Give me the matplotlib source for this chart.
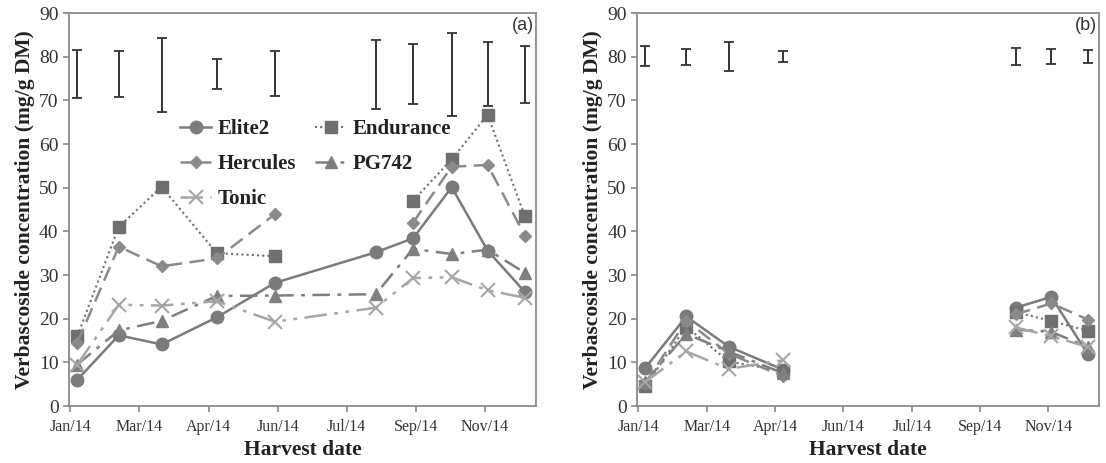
import matplotlib
matplotlib.use('Agg')
import matplotlib.pyplot as plt
import matplotlib.dates as mdates
import numpy as np
import pandas as pd

nan = np.nan

# dates de recolte et valeurs
dates = pd.to_datetime(['2014-01-15', '2014-02-14', '2014-03-17', '2014-04-26', '2014-06-07',
                        '2014-08-19', '2014-09-15', '2014-10-13', '2014-11-08', '2014-12-05'])

# panel a
elite2_a = [6, 16.2, 14.1, 20.3, 28.2, 35.2, 38.4, 50.1, 35.6, 26.1]
endurance_a = [16, 41, 50.2, 35, 34.3, nan, 47, 56.5, 66.7, 43.4]
hercules_a = [14.5, 36.5, 32, 33.8, 43.9, nan, 42, 54.8, 55.2, 39]
pg742_a = [9.5, 17.3, 19.5, 25.2, 25.3, 25.6, 36, 34.8, 35.8, 30.5]
tonic_a = [9.5, 23.2, 23, 24, 19.3, 22.5, 29.3, 29.5, 26.5, 24.8]
err_centre_a = [76, 76, 75.8, 76, 76.1, 75.9, 76, 76, 76, 76]
err_half_a = [5.5, 5.3, 8.5, 3.5, 5.2, 7.9, 6.8, 9.5, 7.3, 6.5]

# panel b (pas de recolte en juin, aout, septembre)
elite2_b = [8.7, 20.5, 13.6, 8.3, nan, nan, nan, 22.5, 25, 11.8]
endurance_b = [4.5, 18.2, 10.2, 8, nan, nan, nan, 21.5, 19.5, 17.2]
hercules_b = [5.2, 19.5, 12, 6.8, nan, nan, nan, 21, 23.5, 19.8]
pg742_b = [5.5, 16.5, 12.5, 7.5, nan, nan, nan, 17.5, 17, 13.5]
tonic_b = [5.5, 12.5, 8.5, 10.5, nan, nan, nan, 18, 16, 13.5]
err_centre_b = [80.2, 80, 80, 80, nan, nan, nan, 80, 80, 80]
err_half_b = [2.3, 1.8, 3.3, 1.2, nan, nan, nan, 2, 1.7, 1.5]

tick_dates = pd.date_range('2014-01-10', periods=7, freq='50D')
varietes = ['Elite2', 'Endurance', 'Hercules', 'PG742', 'Tonic']
styles = {
    'Elite2': dict(color='#7b7b7b', ls='-', marker='o', ms=9, lw=1.8),
    'Endurance': dict(color='#6f6f6f', ls=(0, (1, 1.5)), marker='s', ms=9, lw=1.5),
    'Hercules': dict(color='#8a8a8a', ls=(0, (6, 3)), marker='D', ms=6, lw=1.8),
    'PG742': dict(color='#7f7f7f', ls=(0, (7, 3, 1.5, 3)), marker='^', ms=8, lw=1.8),
    'Tonic': dict(color='#a6a6a6', ls=(0, (9, 3, 1.5, 3, 1.5, 3)), marker='x', ms=10, mew=1.5, lw=1.8),
}

plt.rcParams['font.family'] = ['Liberation Serif', 'DejaVu Serif']

fig = plt.figure(figsize=(11.06, 4.63), dpi=100)
ax_a = fig.add_axes([0.0624, 0.1231, 0.4222, 0.8488])
ax_b = fig.add_axes([0.576, 0.1231, 0.4177, 0.8488])


def trace(ax, series, centre, half, lettre):
    lignes = {}
    for nom, vals in zip(varietes, series):
        lignes[nom], = ax.plot(dates, vals, label=nom, **styles[nom])
    ax.errorbar(dates, centre, yerr=half, fmt='none', ecolor='#333333',
                elinewidth=1.4, capsize=3.5, capthick=1.3)
    ax.set_ylim(0, 90)
    ax.set_yticks(range(0, 91, 10))
    ax.set_xlim(pd.Timestamp('2014-01-09'), pd.Timestamp('2014-12-13'))
    ax.set_xticks(tick_dates)
    ax.xaxis.set_major_formatter(mdates.DateFormatter('%b/%y'))
    ax.tick_params(axis='y', labelsize=14, colors='#888888', labelcolor='#333333', length=4, width=1.2)
    ax.tick_params(axis='x', labelsize=11.5, colors='#888888', labelcolor='#333333', length=4,
                   width=1.2, pad=5)
    for sp in ax.spines.values():
        sp.set_color('#8a8a8a')
        sp.set_linewidth(1.3)
    ax.set_xlabel('Harvest date', fontsize=15.5, fontweight='bold', color='#222222', labelpad=4)
    ax.set_ylabel('Verbascoside concentration (mg/g DM)', fontsize=15.5, fontweight='bold',
                  color='#222222', labelpad=3)
    ax.text(0.995, 0.99, lettre, transform=ax.transAxes, ha='right', va='top',
            fontsize=13, color='#333333', family=['Liberation Sans', 'DejaVu Sans'])
    return lignes


lig = trace(ax_a, [elite2_a, endurance_a, hercules_a, pg742_a, tonic_a],
            err_centre_a, err_half_a, '(a)')
trace(ax_b, [elite2_b, endurance_b, hercules_b, pg742_b, tonic_b],
      err_centre_b, err_half_b, '(b)')

ordre = ['Elite2', 'Hercules', 'Tonic', 'Endurance', 'PG742']
ax_a.legend([lig[n] for n in ordre], ordre, ncol=2, loc='upper left', bbox_to_anchor=(0.198, 0.778),
            frameon=False, prop={'weight': 'bold', 'size': 15}, handlelength=1.5,
            handletextpad=0.3, columnspacing=0.9, labelspacing=0.72, labelcolor='#222222')

fig.savefig('out.png', dpi=100)
